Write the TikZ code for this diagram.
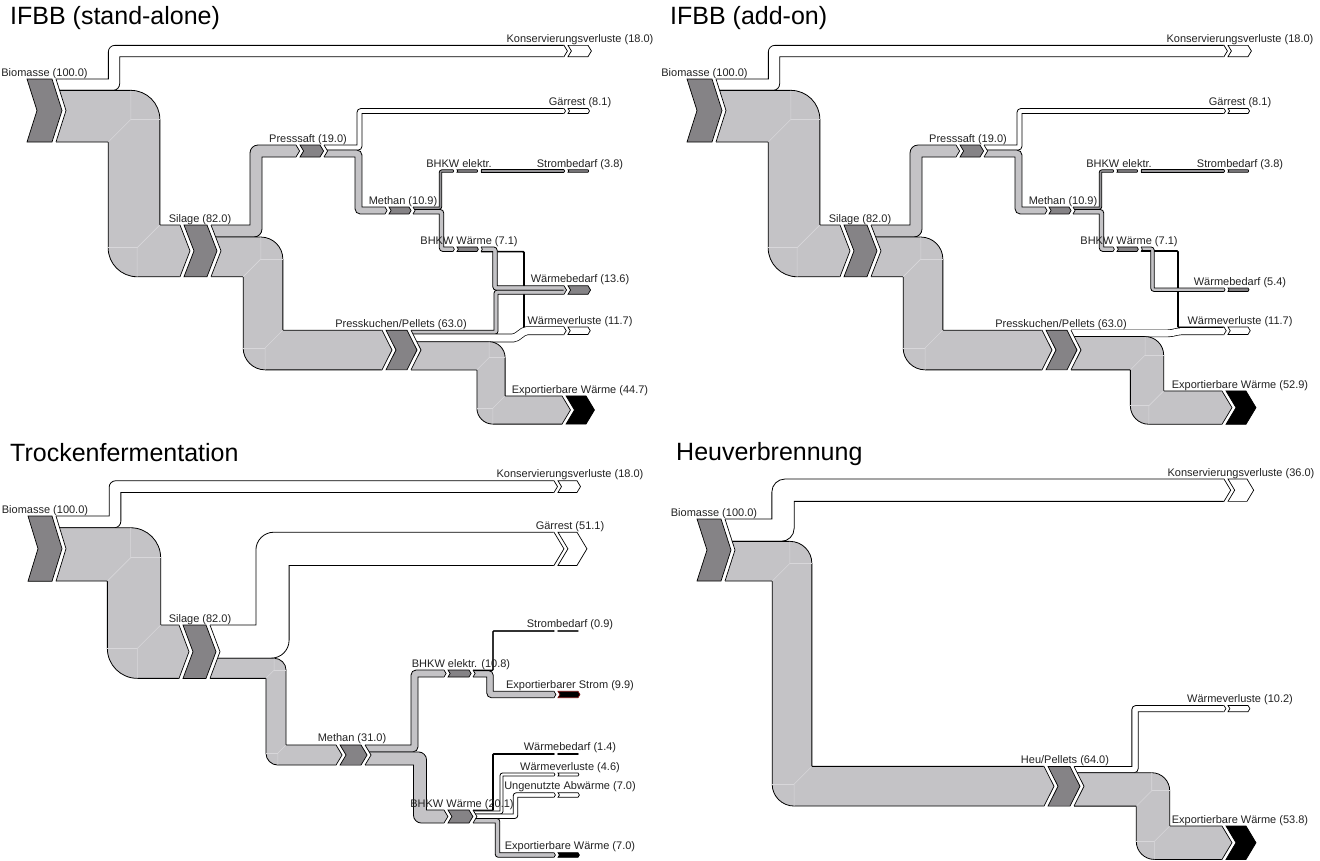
\documentclass[tikz,border=0pt]{standalone}
\usepackage{fontspec}
\setmainfont{Liberation Sans}
\definecolor{flowgray}{RGB}{196,195,198}
\definecolor{thingray}{RGB}{150,149,152}
\definecolor{markgray}{RGB}{133,131,134}
\definecolor{seamcol}{RGB}{216,215,218}
\definecolor{darkred}{RGB}{120,16,16}
\definecolor{txtcol}{RGB}{34,34,34}
\tikzset{
  sklabel/.style={font=\fontsize{11}{13}\selectfont, text=txtcol, anchor=base, inner sep=0pt},
  sktitle/.style={font=\fontsize{25}{30}\selectfont, text=black, anchor=base west, inner sep=0pt},
  seamline/.style={draw=seamcol, line width=0.6pt},
  edgeline/.style={draw=black, line width=0.8pt, line join=miter},
}
% stroked flow (used for thin or slanted flows): width, colour, corner radius, path
\newcommand\SKflow[4]{%
  \pgfmathsetmacro\SKww{#1+1.4}%
  \draw[line width=\SKww pt, black, rounded corners=#3pt] #4;%
  \draw[line width=#1pt, #2, rounded corners=#3pt] #4;}
% Z-shaped filled flow: x0, y0, x of vertical, y1, x1, width, outer radius, colour
\newcommand\SKz[8]{%
  \pgfmathsetmacro\Zs{(#4>#2)?1:-1}%
  \pgfmathsetmacro\Zh{#6/2}%
  \pgfmathsetmacro\ZyA{#2-\Zs*\Zh}%
  \pgfmathsetmacro\ZyAe{#4-\Zs*\Zh}%
  \pgfmathsetmacro\ZyB{#2+\Zs*\Zh}%
  \pgfmathsetmacro\ZyBe{#4+\Zs*\Zh}%
  \pgfmathsetmacro\ZxR{#3+\Zh}%
  \pgfmathsetmacro\ZxL{#3-\Zh}%
  \pgfmathsetmacro\Zk{0.4477*#7}%
  \fill[#8] (#1,\ZyA) -- ({\ZxR-#7},\ZyA) .. controls ({\ZxR-\Zk},\ZyA) and (\ZxR,{\ZyA+\Zs*\Zk}) .. (\ZxR,{\ZyA+\Zs*#7}) -- (\ZxR,\ZyAe) -- (#5,\ZyAe)
     -- (#5,\ZyBe) -- ({\ZxL+#7},\ZyBe) .. controls ({\ZxL+\Zk},\ZyBe) and (\ZxL,{\ZyBe-\Zs*\Zk}) .. (\ZxL,{\ZyBe-\Zs*#7}) -- (\ZxL,\ZyB) -- (#1,\ZyB) -- cycle;%
  \draw[edgeline] (#1,\ZyA) -- ({\ZxR-#7},\ZyA) .. controls ({\ZxR-\Zk},\ZyA) and (\ZxR,{\ZyA+\Zs*\Zk}) .. (\ZxR,{\ZyA+\Zs*#7}) -- (\ZxR,\ZyAe) -- (#5,\ZyAe);%
  \draw[edgeline] (#1,\ZyB) -- (\ZxL,\ZyB) -- (\ZxL,{\ZyBe-\Zs*#7}) .. controls (\ZxL,{\ZyBe-\Zs*\Zk}) and ({\ZxL+\Zk},\ZyBe) .. ({\ZxL+#7},\ZyBe) -- (#5,\ZyBe);}
% straight filled flow: x0, x1, y, width, colour
\newcommand\SKs[5]{%
  \fill[#5] (#1,{#3-#4/2}) rectangle (#2,{#3+#4/2});%
  \draw[edgeline] (#1,{#3-#4/2}) -- (#2,{#3-#4/2});%
  \draw[edgeline] (#1,{#3+#4/2}) -- (#2,{#3+#4/2});}
% marker: x, top, bottom, width, fill, draw
\newcommand\SKmark[6]{%
  \pgfmathsetmacro\SKd{min(10,0.3*(#3-#2))}%
  \pgfmathsetmacro\SKm{(#2+#3)/2}%
  \filldraw[fill=#5, draw=#6, line width=0.7pt, line join=miter] (#1,#2) -- ({#1+#4},#2) -- ({#1+#4+\SKd},\SKm) -- ({#1+#4},#3) -- (#1,#3) -- ({#1+\SKd},\SKm) -- cycle;}
% pointed end of incoming flows: x, top, bottom, fill
\newcommand\SKtip[4]{%
  \pgfmathsetmacro\SKd{min(10,0.3*(#3-#2))}%
  \pgfmathsetmacro\SKm{(#2+#3)/2}%
  \fill[#4] ({#1-0.3},#2) -- (#1,#2) -- ({#1+\SKd},\SKm) -- (#1,#3) -- ({#1-0.3},#3) -- cycle;%
  \draw[line width=0.7pt, line join=miter] (#1,#2) -- ({#1+\SKd},\SKm) -- (#1,#3);}
% notched start of outgoing flows: x, top, bottom
\newcommand\SKnotch[3]{%
  \pgfmathsetmacro\SKd{min(10,0.3*(#3-#2))}%
  \pgfmathsetmacro\SKm{(#2+#3)/2}%
  \fill[white] (#1,#2) -- ({#1+\SKd},\SKm) -- (#1,#3) -- cycle;%
  \draw[line width=0.7pt, line join=miter] (#1,#2) -- ({#1+\SKd},\SKm) -- (#1,#3);}
% seam lines of a bend: cx, cy, half width, outer radius, sx, sy
\newcommand\SKseam[6]{%
  \draw[seamline] ({#1-(#5)*(#3)},{#2-(#6)*(#3)}) -- ({#1+(#5)*(#3-#4)},{#2+(#6)*(#3-#4)}) -- ({#1+(#5)*(#3-#4)},{#2+(#6)*(#3)});%
  \draw[seamline] ({#1+(#5)*(#3-#4)},{#2+(#6)*(#3-#4)}) -- ({#1+(#5)*(#3)},{#2+(#6)*(#3-#4)});}

% common parts of the two IFBB panels
\newcommand\SKifbbflows{%
  \SKz{56}{84.7}{114}{51}{564}{11.3}{6.5}{white}%
  \SKz{56}{116.2}{134}{250.9}{180}{51.7}{29}{flowgray}%
  \SKz{211}{231}{256}{151}{296}{12}{8}{flowgray}%
  \SKz{211}{256.9}{263}{350}{382}{39.7}{22}{flowgray}%
  \SKz{324}{147.6}{359.5}{111}{564}{5.1}{4}{white}%
  \SKz{324}{153.5}{358.5}{210.5}{385}{6.9}{5}{flowgray}%
  \SKz{413}{208.2}{440.5}{171}{453}{2.4}{2.5}{thingray}%
  \SKs{481}{564}{171}{2.4}{thingray}%
  \SKz{413}{211.7}{441.5}{249.2}{453}{4.5}{3.5}{flowgray}%
}
\newcommand\SKifbbseams{%
  \SKseam{134}{116.2}{25.85}{29}{1}{-1}%
  \SKseam{134}{250.9}{25.85}{29}{-1}{1}%
  \SKseam{263}{256.9}{19.85}{22}{1}{-1}%
  \SKseam{263}{350}{19.85}{22}{-1}{1}%
}
\newcommand\SKifbbmarks[1]{%
  \SKnotch{56}{79}{142}%
  \SKnotch{211}{225}{276.7}%
  \SKnotch{324}{145}{157}%
  \SKnotch{413}{207.05}{213.95}%
  \SKnotch{481}{169.8}{172.2}%
  \SKnotch{481}{246.95}{251.45}%
  \SKnotch{411}{330.15}{369.85}%
  \SKtip{180}{225}{276.7}{flowgray}%
  \SKtip{296}{145}{157}{flowgray}%
  \SKtip{382}{330.15}{369.85}{flowgray}%
  \SKtip{385}{207.05}{213.95}{flowgray}%
  \SKtip{453}{169.8}{172.2}{thingray}%
  \SKtip{453}{246.95}{251.45}{flowgray}%
  \SKtip{564}{45.35}{56.65}{white}%
  \SKtip{564}{108.45}{113.55}{white}%
  \SKtip{564}{169.8}{172.2}{thingray}%
  \SKtip{564}{327}{334.4}{white}%
  \SKmark{27}{79}{142}{25}{markgray}{black}%
  \SKmark{184}{225}{276.7}{23}{markgray}{black}%
  \SKmark{300}{145}{157}{20}{markgray}{black}%
  \SKmark{389}{207.05}{213.95}{20}{markgray}{black}%
  \SKmark{457}{169.8}{172.2}{20}{markgray}{black}%
  \SKmark{457}{246.95}{251.45}{20}{markgray}{black}%
  \SKmark{386}{330.15}{369.85}{21}{markgray}{black}%
  \SKmark{568}{45.35}{56.65}{20}{white}{black}%
  \SKmark{568}{108.45}{113.55}{20}{white}{black}%
  \SKmark{568}{169.8}{172.2}{20}{markgray}{black}%
  \SKmark{568}{327}{334.4}{20}{white}{black}%
  \node[sklabel] (#1bio) at (44.5,76) {Biomasse (100.0)};%
  \node[sklabel] (#1sil) at (200,222) {Silage (82.0)};%
  \node[sklabel] (#1pss) at (308,142) {Presssaft (19.0)};%
  \node[sklabel] (#1met) at (403,204) {Methan (10.9)};%
  \node[sklabel] (#1bel) at (459,167) {BHKW elektr.};%
  \node[sklabel] (#1stb) at (580,167) {Strombedarf (3.8)};%
  \node[sklabel] (#1bwa) at (469,244) {BHKW Wärme (7.1)};%
  \node[sklabel] (#1pku) at (401,327) {Presskuchen/Pellets (63.0)};%
  \node[sklabel] (#1kon) at (580,42) {Konservierungsverluste (18.0)};%
  \node[sklabel] (#1gae) at (580,105.5) {Gärrest (8.1)};%
  \node[sklabel] (#1wvl) at (580,324) {Wärmeverluste (11.7)};%
}

\begin{document}
\begin{tikzpicture}[x=1pt,y=-1pt]
\fill[white] (0,0) rectangle (1320,860);
\useasboundingbox (0,0) rectangle (1320,860);

% ================= Panel 1: IFBB (stand-alone)
\node[sktitle] (t1) at (10,24) {IFBB (stand-alone)};
\SKifbbflows
\SKflow{0.3}{black}{1}{(481,251.6) -- (524,251.6) -- (524,329)}
\SKz{481}{249.2}{495}{288}{564}{4.5}{3.5}{flowgray}
\SKz{411}{332.2}{496}{292.2}{564}{4.1}{3}{flowgray}
\SKflow{7.4}{white}{2}{(411,338) -- (515,338) -- (525,330.7) -- (564,330.7)}
\SKz{411}{355.8}{491}{410}{562}{28.2}{16}{flowgray}
\SKifbbseams
\SKseam{491}{355.8}{14.1}{16}{1}{-1}
\SKseam{491}{410}{14.1}{16}{-1}{1}
\SKifbbmarks{a}
\SKtip{564}{285.75}{294.25}{flowgray}
\SKtip{562}{395.9}{424.1}{flowgray}
\SKmark{568}{285.75}{294.25}{20}{markgray}{black}
\SKmark{566}{395.9}{424.1}{20}{black}{black}
\node[sklabel] (awbd) at (580,282.7) {Wärmebedarf (13.6)};
\node[sklabel] (aexp) at (580,393) {Exportierbare Wärme (44.7)};

% ================= Panel 2: IFBB (add-on)
\node[sktitle] (t2) at (670,24) {IFBB (add-on)};
\begin{scope}[shift={(660,0)}]
\SKifbbflows
\SKz{481}{250.95}{518}{327.5}{564}{1.07}{1.5}{black}
\SKz{481}{248.7}{492.5}{289.7}{564}{3.4}{3}{flowgray}
\SKflow{6.3}{white}{2}{(411,333.35) -- (510,333.35) -- (520,331.2) -- (564,331.2)}
\SKz{411}{353.2}{487}{407.6}{562}{33.3}{18.5}{flowgray}
\SKifbbseams
\SKseam{487}{353.2}{16.65}{18.5}{1}{-1}
\SKseam{487}{407.6}{16.65}{18.5}{-1}{1}
\SKifbbmarks{b}
\SKtip{564}{288}{291.4}{flowgray}
\SKtip{562}{390.95}{424.25}{flowgray}
\SKmark{568}{288}{291.4}{20}{markgray}{black}
\SKmark{566}{390.95}{424.25}{20}{black}{black}
\node[sklabel] (bwbd) at (580,285) {Wärmebedarf (5.4)};
\node[sklabel] (bexp) at (580,388) {Exportierbare Wärme (52.9)};
\end{scope}

% ================= Panel 3: Trockenfermentation
\node[sktitle] (t3) at (10,461) {Trockenfermentation};
\SKz{56}{521.9}{115}{486.6}{554}{11.7}{6.5}{white}
\SKz{56}{554.4}{134}{651.7}{179}{53.3}{30}{flowgray}
\SKz{210}{641.6}{272.5}{548.8}{554}{33.2}{18}{white}
\SKz{210}{668.3}{276}{755}{336}{20.15}{12}{flowgray}
\SKz{365}{748.4}{414.5}{673.5}{444}{7}{5}{flowgray}
\SKz{365}{758.5}{420}{816.5}{444}{13.1}{8}{flowgray}
\SKz{473}{670.3}{493}{631}{554}{0.6}{1}{black}
\SKz{473}{673.8}{490}{694.5}{554}{6.4}{4.5}{flowgray}
\SKz{473}{810.45}{493}{754}{554}{0.9}{1}{black}
\SKz{473}{812.4}{501.5}{774.5}{554}{3}{2.5}{white}
\SKz{473}{816.2}{515.5}{795}{554}{4.55}{3}{white}
\SKz{473}{820.7}{497.5}{855}{554}{4.55}{3}{flowgray}
\SKseam{134}{554.4}{26.65}{30}{1}{-1}
\SKseam{134}{651.7}{26.65}{30}{-1}{1}
\SKseam{276}{668.3}{10.08}{12}{1}{-1}
\SKseam{276}{755}{10.08}{12}{-1}{1}
\SKnotch{56}{516}{581.3}
\SKnotch{210}{625}{678.4}
\SKnotch{365}{744.9}{765.1}
\SKnotch{473}{670}{677}
\SKnotch{473}{810}{823}
\SKtip{179}{625}{678.4}{flowgray}
\SKtip{336}{744.9}{765.1}{flowgray}
\SKtip{444}{670}{677}{flowgray}
\SKtip{444}{810}{823}{flowgray}
\SKtip{554}{480.75}{492.45}{white}
\SKtip{554}{532.2}{565.4}{white}
\SKtip{554}{630.7}{631.3}{black}
\SKtip{554}{691.3}{697.7}{flowgray}
\SKtip{554}{753.55}{754.45}{black}
\SKtip{554}{773}{776}{white}
\SKtip{554}{792.7}{797.3}{white}
\SKtip{554}{852.7}{857.3}{flowgray}
\SKmark{28}{516}{581.3}{24}{markgray}{black}
\SKmark{183}{625}{678.4}{23}{markgray}{black}
\SKmark{340}{744.9}{765.1}{21}{markgray}{black}
\SKmark{448}{670}{677}{21}{markgray}{black}
\SKmark{448}{810}{823}{21}{markgray}{black}
\SKmark{558}{480.75}{492.45}{19}{white}{black}
\SKmark{558}{532.2}{565.4}{19}{white}{black}
\SKmark{558}{630.7}{631.3}{20}{black}{black}
\SKmark{558}{691.3}{697.7}{20}{black}{darkred}
\SKmark{558}{753.55}{754.45}{20}{black}{black}
\SKmark{558}{773}{776}{20}{white}{black}
\SKmark{558}{792.7}{797.3}{20}{white}{black}
\SKmark{558}{852.7}{857.3}{20}{black}{black}
\node[sklabel] (cbio) at (45,513) {Biomasse (100.0)};
\node[sklabel] (csil) at (200,622) {Silage (82.0)};
\node[sklabel] (cmet) at (352,741.9) {Methan (31.0)};
\node[sklabel] (cbel) at (461,667) {BHKW elektr. (10.8)};
\node[sklabel] (cbwa) at (462,807) {BHKW Wärme (20.1)};
\node[sklabel] (ckon) at (570,477.7) {Konservierungsverluste (18.0)};
\node[sklabel] (cgae) at (570,529.2) {Gärrest (51.1)};
\node[sklabel] (cstb) at (570,627.7) {Strombedarf (0.9)};
\node[sklabel] (cest) at (570,688.3) {Exportierbarer Strom (9.9)};
\node[sklabel] (cwbd) at (570,750.5) {Wärmebedarf (1.4)};
\node[sklabel] (cwvl) at (570,770) {Wärmeverluste (4.6)};
\node[sklabel] (cuaw) at (570,789.7) {Ungenutzte Abwärme (7.0)};
\node[sklabel] (cexp) at (570,849.7) {Exportierbare Wärme (7.0)};

% ================= Panel 4: Heuverbrennung
\node[sktitle] (t4) at (676,460) {Heuverbrennung};
\SKz{725}{530.2}{783}{490.2}{1224}{22.3}{13}{white}
\SKz{725}{561.2}{792}{786.2}{1044}{39.7}{22}{flowgray}
\SKz{1074}{769.6}{1135}{708.6}{1224}{6.3}{4}{white}
\SKz{1074}{789.4}{1153}{842.7}{1222}{33.4}{18}{flowgray}
\SKseam{792}{561.2}{19.85}{22}{1}{-1}
\SKseam{792}{786.2}{19.85}{22}{-1}{1}
\SKseam{1153}{789.4}{16.7}{18}{1}{-1}
\SKseam{1153}{842.7}{16.7}{18}{-1}{1}
\SKnotch{725}{519}{581}
\SKnotch{1074}{766.4}{806.1}
\SKtip{1044}{766.4}{806.1}{flowgray}
\SKtip{1224}{479.05}{501.35}{white}
\SKtip{1224}{705.45}{711.75}{white}
\SKtip{1222}{826}{859.4}{flowgray}
\SKmark{697}{519}{581}{24}{markgray}{black}
\SKmark{1048}{766.4}{806.1}{22}{markgray}{black}
\SKmark{1228}{479.05}{501.35}{19}{white}{black}
\SKmark{1228}{705.45}{711.75}{20}{white}{black}
\SKmark{1226}{826}{859.4}{20}{black}{black}
\node[sklabel] (dbio) at (714,516) {Biomasse (100.0)};
\node[sklabel] (dheu) at (1065,763) {Heu/Pellets (64.0)};
\node[sklabel] (dkon) at (1241,476) {Konservierungsverluste (36.0)};
\node[sklabel] (dwvl) at (1240,702.4) {Wärmeverluste (10.2)};
\node[sklabel] (dexp) at (1240,823) {Exportierbare Wärme (53.8)};
\end{tikzpicture}
\end{document}
